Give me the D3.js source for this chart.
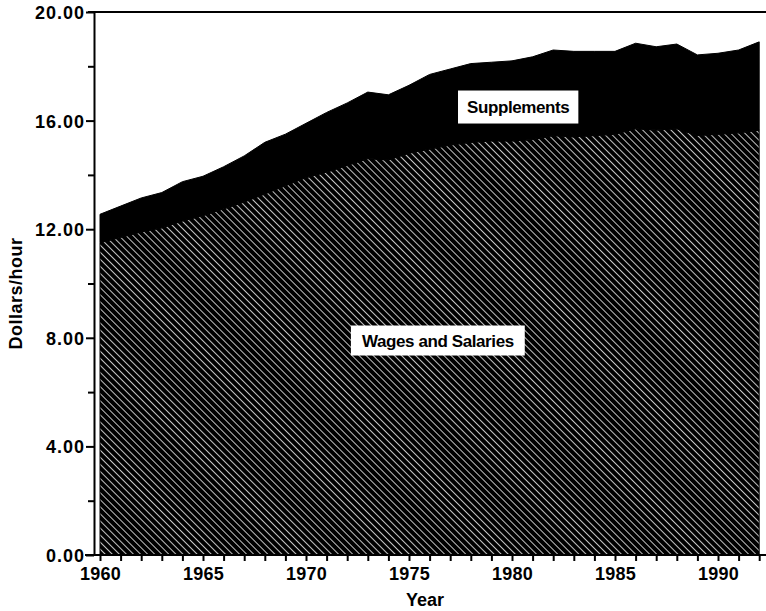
<!DOCTYPE html>
<html>
<head>
<meta charset="utf-8">
<script src="https://cdn.jsdelivr.net/npm/d3@7"></script>
<style>
  html, body { margin: 0; padding: 0; background: #fff; }
  svg { display: block; }
  text { font-family: "Liberation Sans", Arial, Helvetica, sans-serif; font-weight: bold; fill: #000; }
</style>
</head>
<body>
<svg id="chart" width="766" height="611"></svg>
<script>
// ---- data ----
const years = d3.range(1960, 1993);
const wages = [11.5, 11.7, 11.9, 12.05, 12.3, 12.5, 12.75, 13.0, 13.3, 13.6,
               13.9, 14.1, 14.35, 14.6, 14.55, 14.8, 14.95, 15.1, 15.2, 15.25,
               15.25, 15.3, 15.45, 15.4, 15.45, 15.5, 15.7, 15.65, 15.7, 15.45,
               15.5, 15.55, 15.65];
const totalCompensation = [12.55, 12.85, 13.15, 13.35, 13.75, 13.95, 14.3, 14.7, 15.2, 15.5,
               15.9, 16.3, 16.65, 17.05, 16.95, 17.3, 17.7, 17.9, 18.1, 18.15,
               18.2, 18.35, 18.6, 18.55, 18.55, 18.55, 18.85, 18.72, 18.82, 18.42,
               18.48, 18.6, 18.9];
const supplements = totalCompensation.map((t, i) => +(t - wages[i]).toFixed(2));
const yMajorTicks = [0, 4, 8, 12, 16, 20];
const yMinorTicks = [2, 6, 10, 14, 18];
const xMajorTicks = [1960, 1965, 1970, 1975, 1980, 1985, 1990];
const seriesLabels = [
  { key: "supplements", text: "Supplements", year: 1980.3, value: 16.5 },
  { key: "wages", text: "Wages and Salaries", year: 1976.4, value: 7.9 }
];

// ---- layout ----
const svg = d3.select("#chart");
const axisX = 94;
const x = d3.scaleLinear().domain([1960, 1990]).range([100, 718]);
const y = d3.scaleLinear().domain([0, 20]).range([555, 12]);

// hatch pattern for wages
const defs = svg.append("defs");
const pat = defs.append("pattern")
  .attr("id", "hatch")
  .attr("patternUnits", "userSpaceOnUse")
  .attr("width", 5).attr("height", 5)
  .attr("patternTransform", "rotate(-45)");
pat.append("rect").attr("width", 5).attr("height", 5).attr("fill", "#000");
pat.append("line").attr("x1", 2.5).attr("y1", 0).attr("x2", 2.5).attr("y2", 5)
  .attr("stroke", "#fff").attr("stroke-width", 0.9).attr("stroke-opacity", 0.85);

const table = years.map((yr, i) => ({ year: yr, wages: wages[i], supplements: supplements[i] }));
const stack = d3.stack().keys(["wages", "supplements"]);
const layers = stack(table);

const area = d3.area()
  .x(d => x(d.data.year))
  .y0(d => y(d[0]))
  .y1(d => y(d[1]));

svg.append("g").selectAll("path")
  .data(layers)
  .join("path")
  .attr("d", area)
  .attr("fill", d => d.key === "wages" ? "url(#hatch)" : "#000")
  .attr("stroke", "#000")
  .attr("stroke-width", 1);

// top frame line
svg.append("line")
  .attr("x1", axisX - 6).attr("x2", 766)
  .attr("y1", y(20)).attr("y2", y(20))
  .attr("stroke", "#000").attr("stroke-width", 2);

// Y axis
const yAxis = d3.axisLeft(y)
  .tickValues(yMajorTicks)
  .tickFormat(d3.format(".2f"))
  .tickSize(8).tickSizeOuter(0).tickPadding(1);
const gy = svg.append("g").attr("transform", `translate(${axisX},0)`).call(yAxis);
gy.select(".domain").attr("stroke-width", 2);
gy.selectAll(".tick line").attr("stroke-width", 2);
gy.selectAll(".tick text")
  .attr("font-size", 18).attr("font-family", "Liberation Sans, Arial, sans-serif")
  .attr("font-weight", "bold").attr("letter-spacing", 1).attr("dy", "0.36em");

const yMinor = d3.axisLeft(y).tickValues(yMinorTicks).tickFormat("").tickSize(6).tickSizeOuter(0);
const gym = svg.append("g").attr("transform", `translate(${axisX},0)`).call(yMinor);
gym.select(".domain").remove();
gym.selectAll(".tick line").attr("stroke-width", 2);

// X axis
const xAxis = d3.axisBottom(x)
  .tickValues(years)
  .tickFormat(d => xMajorTicks.includes(d) ? d3.format("d")(d) : "")
  .tickSize(6).tickSizeOuter(0).tickPadding(6);
const gx = svg.append("g").attr("transform", `translate(0,${y(0)})`).call(xAxis);
gx.select(".domain").attr("d", `M${axisX - 9},0H766`).attr("stroke-width", 2);
gx.selectAll(".tick line").attr("stroke-width", 2);
gx.selectAll(".tick text")
  .attr("font-size", 18).attr("font-family", "Liberation Sans, Arial, sans-serif")
  .attr("font-weight", "bold").attr("letter-spacing", 0.3);

// axis titles
svg.append("text")
  .attr("x", 425).attr("y", 606)
  .attr("text-anchor", "middle")
  .attr("font-size", 18)
  .text("Year");

svg.append("text")
  .attr("transform", `translate(22,${(y(0) + y(20)) / 2 + 10}) rotate(-90)`)
  .attr("text-anchor", "middle")
  .attr("font-size", 18)
  .attr("letter-spacing", 0.5)
  .text("Dollars/hour");

// series labels in white boxes
const lg = svg.append("g");
seriesLabels.forEach(l => {
  const g = lg.append("g").attr("transform", `translate(${x(l.year)},${y(l.value)})`);
  const rect = g.append("rect").attr("fill", "#fff");
  const t = g.append("text")
    .attr("text-anchor", "middle")
    .attr("dy", "0.36em")
    .attr("font-size", 17)
    .attr("letter-spacing", -0.4)
    .text(l.text);
  const w = t.node().getComputedTextLength();
  const padX = l.key === "wages" ? 11 : 9;
  const h = l.key === "wages" ? 30 : 33;
  rect.attr("x", -w / 2 - padX).attr("y", -h / 2)
    .attr("width", w + 2 * padX).attr("height", h);
});
</script>
</body>
</html>
